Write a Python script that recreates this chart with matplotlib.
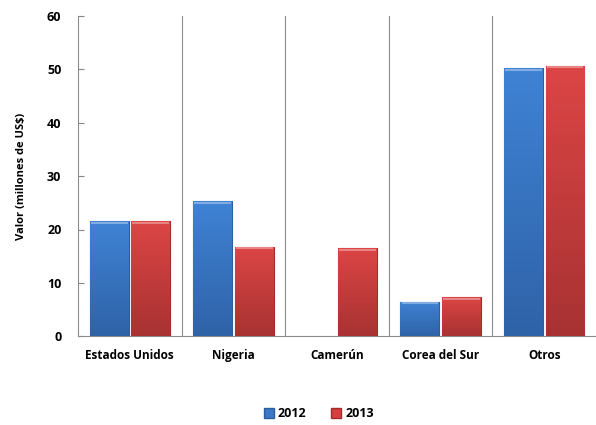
import matplotlib
matplotlib.use("Agg")
import matplotlib.pyplot as plt
import numpy as np
from matplotlib.patches import Patch

categorias = ["Estados Unidos", "Nigeria", "Camerún", "Corea del Sur", "Otros"]
valores_2012 = [21.5, 25.3, 0.0, 6.5, 50.2]
valores_2013 = [21.5, 16.7, 16.5, 7.3, 50.7]

plt.rcParams['font.family'] = ['Open Sans', 'DejaVu Sans']
plt.rcParams['font.weight'] = 'bold'

fig = plt.figure(figsize=(5.96, 4.25), dpi=100)
ax = fig.add_axes([0.131, 0.209, 0.869, 0.753])

x = np.arange(len(categorias))
w = 0.375
b1 = ax.bar(x - 0.2, valores_2012, w, color="#3b78c8", edgecolor="#2d5e9e", linewidth=0.8, zorder=3)
b2 = ax.bar(x + 0.2, valores_2013, w, color="#d43f3f", edgecolor="#a02c2c", linewidth=0.8, zorder=3)

# shading across each bar, lighter on the left
def sombrear(bars, c1, c2):
    cmap = matplotlib.colors.LinearSegmentedColormap.from_list("g", [c1, c2])
    grad = np.linspace(0, 1, 64).reshape(-1, 1)
    for b in bars:
        if b.get_height() <= 0:
            b.set_linewidth(0)
            continue
        x0, y0 = b.get_x(), b.get_y()
        im = ax.imshow(grad, cmap=cmap, aspect="auto", zorder=3.5, origin="lower",
                       extent=[x0, x0 + b.get_width(), y0, y0 + b.get_height()])
        im.set_clip_path(b)
        ax.plot([x0 + 0.01, x0 + b.get_width() - 0.01], [b.get_height() - 0.25] * 2,
                color="white", alpha=0.35, lw=1.5, zorder=4, solid_capstyle="butt")

sombrear(b1, "#2f63a8", "#3f82d4")
sombrear(b2, "#a83232", "#dc4545")

ax.set_xlim(-0.5, len(categorias) - 0.5)
ax.set_ylim(0, 60)
ax.set_yticks(range(0, 61, 10))
ax.set_xticks(x)
ax.set_xticklabels(categorias, fontsize=8.5, fontweight='bold')
ax.tick_params(axis='y', direction='in', length=4, color="#888888", labelsize=9, pad=12)
ax.tick_params(axis='x', length=0, pad=9)
for lab in ax.get_yticklabels():
    lab.set_fontweight('bold')

for k in range(1, len(categorias)):
    ax.axvline(k - 0.5, color="#8c8c8c", lw=0.8, zorder=1)

for s in ["top", "right"]:
    ax.spines[s].set_visible(False)
ax.spines["left"].set_color("#8c8c8c")
ax.spines["bottom"].set_color("#8c8c8c")

ax.set_ylabel("Valor (millones de US$)", fontsize=8, fontweight='bold', labelpad=14)

handles = [Patch(facecolor="#3b78c8", edgecolor="#2d5e9e", label="2012"),
           Patch(facecolor="#d43f3f", edgecolor="#a02c2c", label="2013")]
fig.legend(handles=handles, loc="center", bbox_to_anchor=(0.535, 0.026), ncol=2,
           frameon=False, handlelength=0.8, handleheight=0.8,
           handletextpad=0.3, columnspacing=2.0, prop={'weight': 'bold', 'size': 9})

fig.savefig("out.png", dpi=100)
